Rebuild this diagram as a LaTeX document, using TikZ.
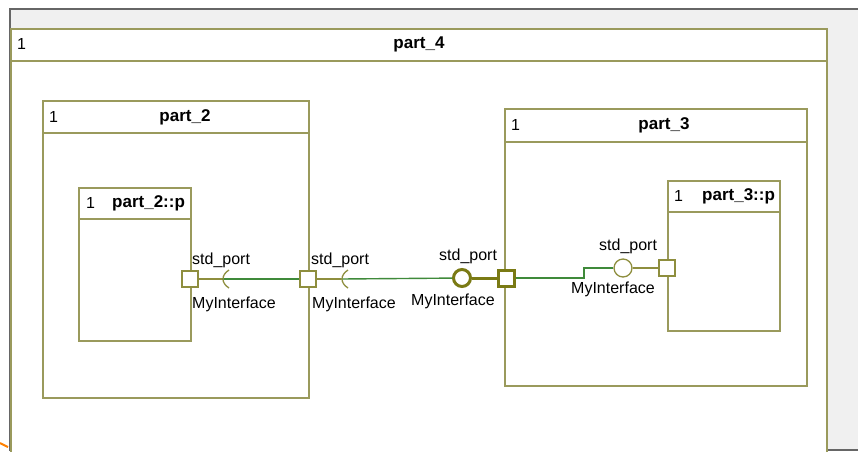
\documentclass[tikz,border=0pt]{standalone}
\usepackage{fontspec}
\setmainfont{Liberation Sans}
\usetikzlibrary{positioning}
\definecolor{partline}{HTML}{9A9A5C}
\definecolor{portline}{HTML}{8E8E3E}
\definecolor{boldport}{HTML}{7A7A14}
\definecolor{wirecol}{HTML}{3F8A3A}
\definecolor{screen}{HTML}{F0F0F0}
\tikzset{partbox/.style={draw=partline, fill=white, line width=1.5pt, anchor=north west, inner sep=0pt},
  headline/.style={draw=partline, line width=1.5pt},
  ttl/.style={font=\fontsize{17}{20}\selectfont\bfseries, inner sep=0pt},
  num/.style={inner sep=0pt, anchor=west},
  lbl/.style={inner sep=0pt, anchor=west},
  port/.style={draw=portline, fill=white, line width=1.3pt, minimum size=16pt, inner sep=0pt},
  bigport/.style={draw=boldport, fill=white, line width=3pt, minimum size=16pt, inner sep=0pt},
  ball/.style={circle, draw=portline, fill=white, line width=1.3pt, minimum size=18pt, inner sep=0pt},
  bigball/.style={circle, draw=boldport, fill=white, line width=3pt, minimum size=17pt, inner sep=0pt},
  stub/.style={draw=portline, line width=1.3pt},
  bigstub/.style={draw=boldport, line width=3pt},
  wire/.style={draw=wirecol, line width=1.4pt}}

\begin{document}
\begin{tikzpicture}[x=1pt, y=-1pt, font=\fontsize{16}{19}\selectfont]
  \useasboundingbox (0,0) rectangle (858,451);
  \clip (0,0) rectangle (858,451);
  % screen behind the diagram
  \fill[white] (0,0) rectangle (858,451);
  \fill[screen] (10,9) rectangle (858,451);
  \draw[gray!80!black, line width=1.2pt] (10,451) -- (10,9) -- (858,9);
  \draw[gray!80!black, line width=1.2pt] (10,450) -- (858,450);
  \draw[orange, line width=2pt] (0,443) -- (8,447);

  % parts
  \node[partbox, minimum width=816pt, minimum height=440pt] (p4) at (10,28) {};
  \node[partbox, minimum width=266pt, minimum height=297pt] (p2) at (42,100) {};
  \node[partbox, minimum width=112pt, minimum height=153pt] (p2p) at (78,187) {};
  \node[partbox, minimum width=302pt, minimum height=277pt] (p3) at (504,108) {};
  \node[partbox, minimum width=112pt, minimum height=150pt] (p3p) at (667,180) {};
  \foreach \p/\h in {p4/33, p2/33, p2p/32, p3/34, p3p/32}
    \draw[headline] ([yshift=-\h pt]\p.north west) -- ([yshift=-\h pt]\p.north east);

  \node[num] (n4) at (17,44) {1};
  \node[ttl] (t4) at (419,44) {part\_4};
  \node[num] (n2) at (49,117) {1};
  \node[ttl] (t2) at (185,117) {part\_2};
  \node[num] (n2p) at (86,203) {1};
  \node[ttl, anchor=west] (t2p) at (112,203) {part\_2::p};
  \node[num] (n3) at (511,125) {1};
  \node[ttl] (t3) at (664,125) {part\_3};
  \node[num] (n3p) at (674,196) {1};
  \node[ttl, anchor=west] (t3p) at (702,196) {part\_3::p};

  % ports
  \node[port] (a1) at (190,279) {};
  \node[port] (a2) at (308,279) {};
  \node[bigball] (c1) at (462,278) {};
  \node[bigport] (c2) at (506,278) {};
  \node[ball] (d1) at (623,268) {};
  \node[port] (d2) at (667,268) {};
  \coordinate (s1) at (222,279);
  \coordinate (s2) at (341,279);
  \coordinate (k1) at (584,278);

  % connectors
  \draw[stub] (a1) -- (s1);
  \draw[wire] (s1) -- (a2);
  \draw[stub] (a2) -- (s2);
  \draw[wire] (s2) -- (c1);
  \draw[bigstub] (c1) -- (c2);
  \draw[wire] (c2) -- (k1) |- (d1);
  \draw[stub] (d1) -- (d2);
  \foreach \s in {s1,s2}
    \draw[stub] ([xshift=7pt,yshift=9pt]\s) .. controls ([xshift=-1pt,yshift=4pt]\s) and ([xshift=-1pt,yshift=-4pt]\s) .. ([xshift=7pt,yshift=-9pt]\s);

  % port labels
  \node[lbl] (l1a) at (192,260) {std\_port};
  \node[lbl] (l1b) at (192,304) {MyInterface};
  \node[lbl] (l2a) at (311,260) {std\_port};
  \node[lbl] (l2b) at (312,304) {MyInterface};
  \node[lbl] (l3a) at (439,256) {std\_port};
  \node[lbl] (l3b) at (411,301) {MyInterface};
  \node[lbl] (l4a) at (599,246) {std\_port};
  \node[lbl] (l4b) at (571,289) {MyInterface};
\end{tikzpicture}
\end{document}
